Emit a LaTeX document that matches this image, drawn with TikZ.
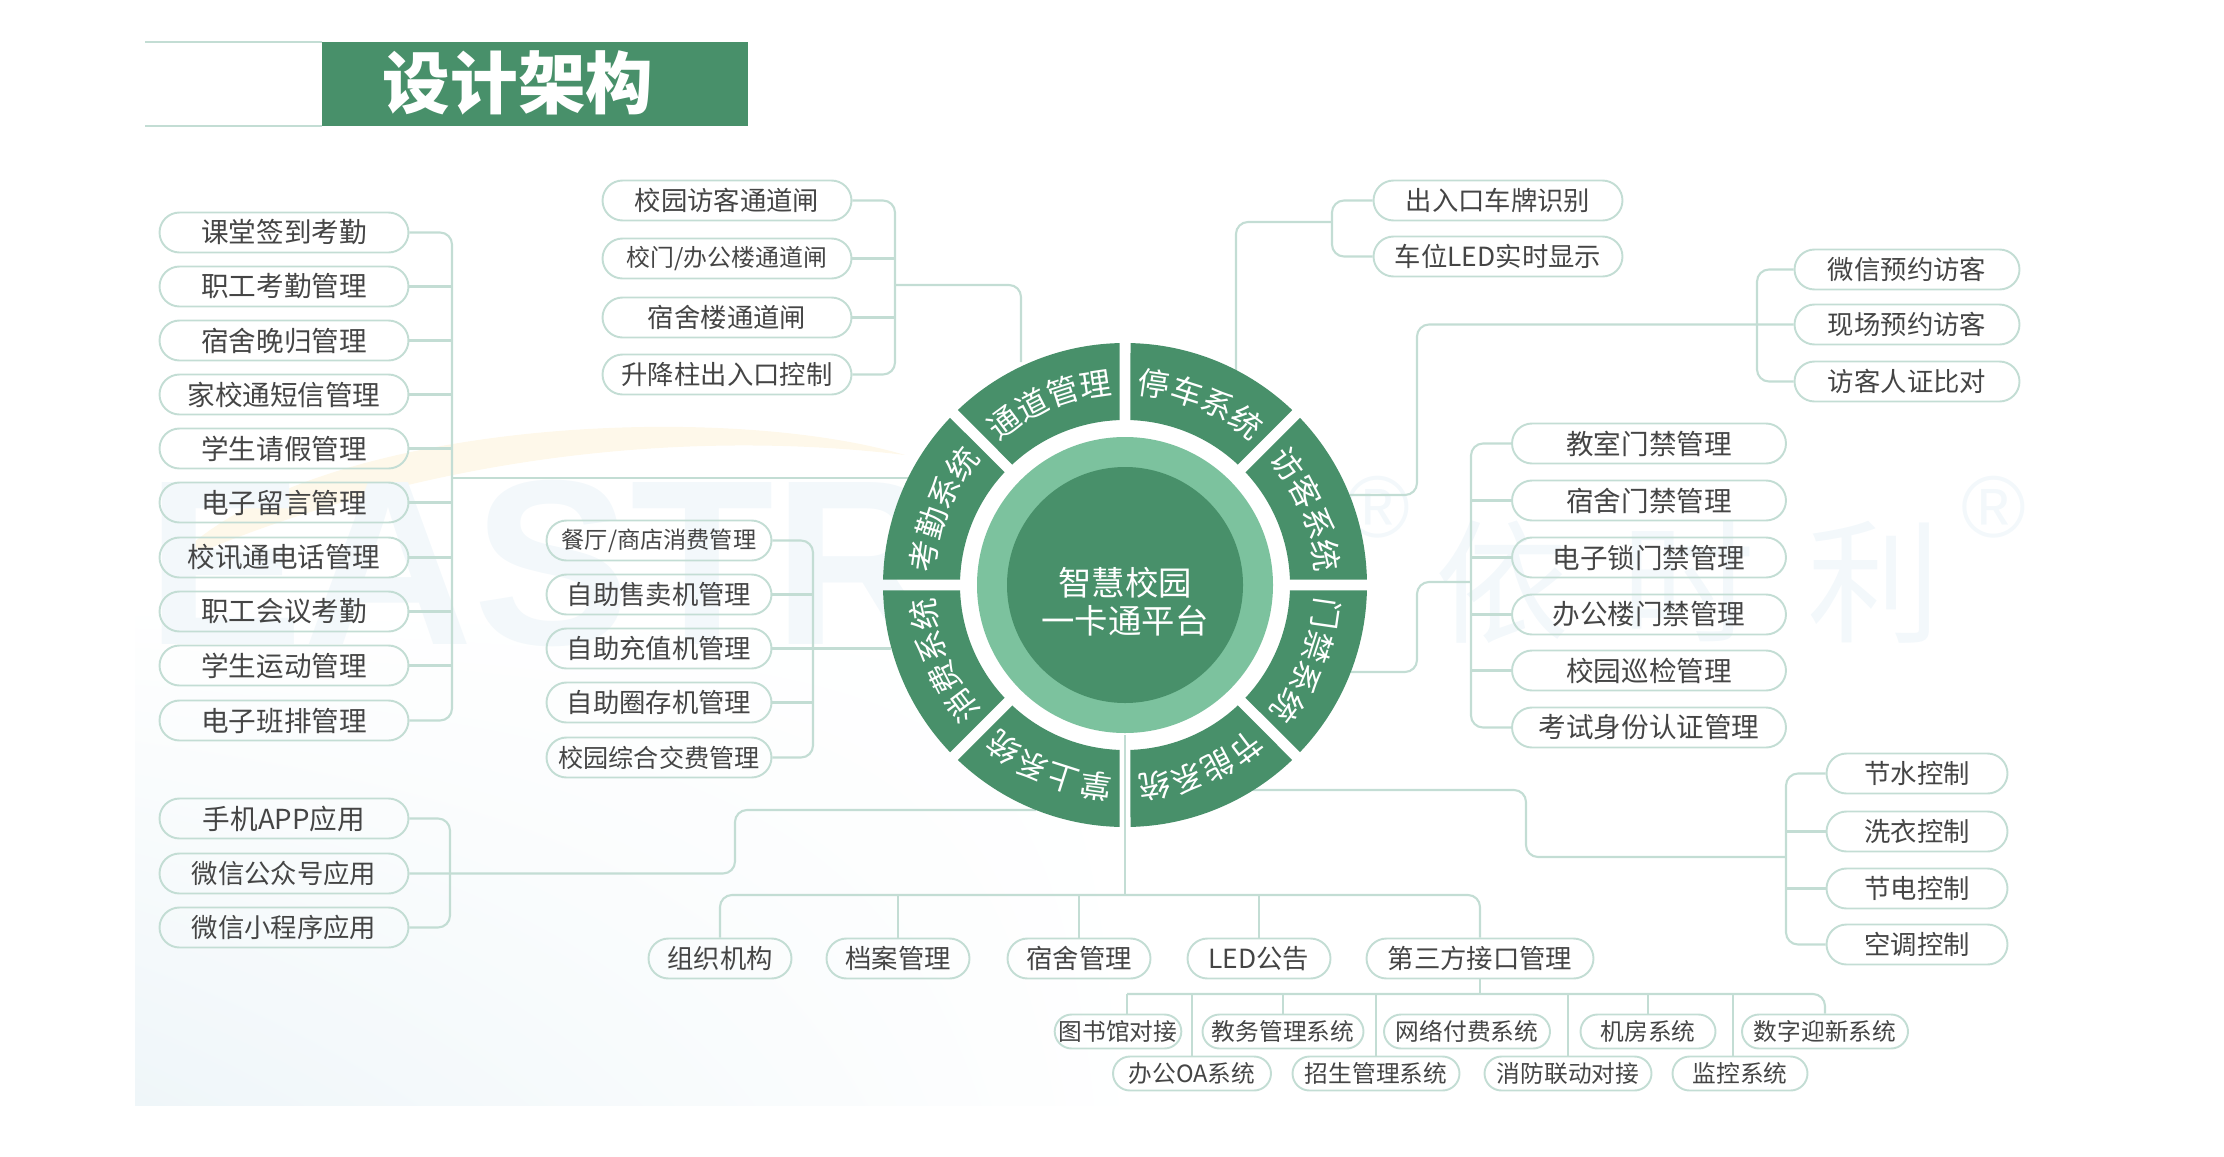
\documentclass[tikz,border=0pt]{standalone}
\usepackage{fontspec}
\usetikzlibrary{positioning,calc,shapes.misc,decorations.text,shadings}
\setmainfont{Noto Sans CJK SC}
\newfontfamily\markfont{Liberation Sans}

\definecolor{segc}{HTML}{48906A}
\definecolor{ringc}{HTML}{7CC29E}
\definecolor{linec}{HTML}{C3DDD4}
\definecolor{textc}{HTML}{454545}
\definecolor{markc}{HTML}{F3F8FB}
\definecolor{swooshc}{HTML}{FEF8EA}
\definecolor{hazec}{HTML}{EFF6F9}

\newcommand\segfont{\fontsize{18pt}{18pt}\selectfont\color{white}}

% one ring segment with its label, #1 = middle angle
\newcommand\ringseg[2]{%
  \fill[segc] ({#1+21.2}:242) arc[start angle={#1+21.2}, end angle={#1-21.2}, radius=242]
    -- ({#1-20.6}:165) arc[start angle={#1-20.6}, end angle={#1+20.6}, radius=165] -- cycle;
  \path[decorate, decoration={text along path, text={|\segfont|#2}, text align={fit to path}}]
    ({#1+19}:191) arc[start angle={#1+19}, end angle={#1-19}, radius=191];
}

\begin{document}
\begin{tikzpicture}[
  x=0.02cm, y=-0.02cm,
  conn/.style={draw=linec, line width=1.2pt, rounded corners=0.24cm},
  pill/.style={rounded rectangle, draw=linec, line width=1.1pt, inner sep=0pt, yshift=-0.03cm,
    minimum height=0.8cm, text=textc, font=\fontsize{15pt}{18pt}\selectfont},
  widepill/.style={pill, font=\fontsize{15.7pt}{18pt}\selectfont},
  minipill/.style={pill, minimum height=0.68cm, font=\fontsize{13.5pt}{16pt}\selectfont},
  wmark/.style={text=markc, inner sep=0pt}
]
\useasboundingbox (0,0) rectangle (2224,1156);

% -----------------------
% Layout parameters
% -----------------------
\def\xkq{284}
\def\xtd{727}
\def\xtc{1498}
\def\xfk{1907}
\def\xmj{1649}
\def\xjn{1917}
\def\xxf{659}
\def\yjc{957}
\def\ydsfA{1030}
\def\ydsfB{1072}

% hubs and the points where lines meet the ring
\coordinate (kqBus) at (452,478);
\coordinate (kqEnd) at (908,478);
\coordinate (tdBus) at (895,285);
\coordinate (tdTurn) at (1021,285);
\coordinate (tdEnd) at (1021,362);
\coordinate (tcBus) at (1332,222);
\coordinate (tcTurn) at (1236,222);
\coordinate (tcEnd) at (1236,372);
\coordinate (fkBus) at (1757,323);
\coordinate (fkTurn) at (1417,495);
\coordinate (fkEnd) at (1350,495);
\coordinate (mjBus) at (1471,582);
\coordinate (mjTurnA) at (1417,582);
\coordinate (mjTurnB) at (1417,672);
\coordinate (mjEnd) at (1351,672);
\coordinate (jnBus) at (1786,857);
\coordinate (jnTurnA) at (1526,857);
\coordinate (jnTurnB) at (1526,790);
\coordinate (jnEnd) at (1253,790);
\coordinate (xfBus) at (813,647);
\coordinate (xfEnd) at (891,647);
\coordinate (zsBus) at (450,872);
\coordinate (zsTurn) at (735,810);
\coordinate (zsEnd) at (1036,810);
\coordinate (jcTop) at (1125,735);
\coordinate (jcBus) at (1125,895);
\coordinate (dsfBus) at (1478,994);
\coordinate (tsgDrop) at (1127,994);
\coordinate (jkDrop) at (1733,994);

% -----------------------
% Faint background marks
% -----------------------
\shade[upper left=white, lower left=hazec, lower right=white, upper right=white]
  (135,600) rectangle (1150,1105);
\fill[swooshc] (170,565) .. controls (300,420) and (720,400) .. (905,455)
  .. controls (700,430) and (430,450) .. (170,565) -- cycle;
\node[wmark, font=\markfont\bfseries\fontsize{134pt}{134pt}\selectfont] (wmA) at (545,563) {EASTR};
\node[wmark, font=\markfont\fontsize{50pt}{50pt}\selectfont] (wmR) at (1378,507) {®};
\node[wmark, font=\fontsize{76pt}{76pt}\selectfont] (wmB) at (1688,582) {依\hspace{30pt}时\hspace{30pt}利};
\node[wmark, font=\markfont\fontsize{50pt}{50pt}\selectfont] (wmS) at (1994,507) {®};

% -----------------------
% Title
% -----------------------
\node[fill=segc, minimum width=8.52cm, minimum height=1.68cm, inner sep=0pt] (title) at (535,84) {};
\node[text=white, inner sep=0pt, font=\bfseries\fontsize{38.5pt}{40pt}\selectfont] (titleText) at (518,83) {设计架构};
\coordinate (titleA) at (145,42);
\coordinate (titleB) at (145,126);
\draw[linec, line width=1.2pt] (titleA) -- (titleA -| title.west);
\draw[linec, line width=1.2pt] (titleB) -- (titleB -| title.west);

% -----------------------
% Attendance (left)
% -----------------------
\node[widepill, minimum width=4.98cm] (kq1) at (\xkq,231) {课堂签到考勤};
\node[widepill, minimum width=4.98cm] (kq2) at (\xkq,285) {职工考勤管理};
\node[widepill, minimum width=4.98cm] (kq3) at (\xkq,339) {宿舍晚归管理};
\node[widepill, minimum width=4.98cm] (kq4) at (\xkq,393) {家校通短信管理};
\node[widepill, minimum width=4.98cm] (kq5) at (\xkq,447) {学生请假管理};
\node[widepill, minimum width=4.98cm] (kq6) at (\xkq,501) {电子留言管理};
\node[widepill, minimum width=4.98cm] (kq7) at (\xkq,556) {校讯通电话管理};
\node[widepill, minimum width=4.98cm] (kq8) at (\xkq,610) {职工会议考勤};
\node[widepill, minimum width=4.98cm] (kq9) at (\xkq,664) {学生运动管理};
\node[widepill, minimum width=4.98cm] (kq10) at (\xkq,719) {电子班排管理};

\draw[conn] (kq1.east) -- (kq1.east -| kqBus) -- (kq10.east -| kqBus) -- (kq10.east);
\draw[conn] (kq2.east) -- (kq2.east -| kqBus);
\draw[conn] (kq3.east) -- (kq3.east -| kqBus);
\draw[conn] (kq4.east) -- (kq4.east -| kqBus);
\draw[conn] (kq5.east) -- (kq5.east -| kqBus);
\draw[conn] (kq6.east) -- (kq6.east -| kqBus);
\draw[conn] (kq7.east) -- (kq7.east -| kqBus);
\draw[conn] (kq8.east) -- (kq8.east -| kqBus);
\draw[conn] (kq9.east) -- (kq9.east -| kqBus);
\draw[conn] (kqBus) -- (kqEnd);

% -----------------------
% Passages (top middle)
% -----------------------
\node[pill, minimum width=4.98cm] (td1) at (\xtd,199) {校园访客通道闸};
\node[pill, minimum width=4.98cm, font=\fontsize{13.6pt}{18pt}\selectfont] (td2) at (\xtd,257) {校门/办公楼通道闸};
\node[pill, minimum width=4.98cm] (td3) at (\xtd,316) {宿舍楼通道闸};
\node[pill, minimum width=4.98cm] (td4) at (\xtd,373) {升降柱出入口控制};

\draw[conn] (td1.east) -- (td1.east -| tdBus) -- (td4.east -| tdBus) -- (td4.east);
\draw[conn] (td2.east) -- (td2.east -| tdBus);
\draw[conn] (td3.east) -- (td3.east -| tdBus);
\draw[conn] (tdBus) -- (tdTurn) -- (tdEnd);

% -----------------------
% Parking (top right)
% -----------------------
\node[pill, minimum width=4.98cm] (tc1) at (\xtc,199) {出入口车牌识别};
\node[pill, minimum width=4.98cm] (tc2) at (\xtc,255) {车位LED实时显示};

\draw[conn] (tc1.west) -- (tc1.west -| tcBus) -- (tc2.west -| tcBus) -- (tc2.west);
\draw[conn] (tcBus) -- (tcTurn) -- (tcEnd);

% -----------------------
% Visitors (right)
% -----------------------
\node[pill, minimum width=4.5cm] (fk1) at (\xfk,268) {微信预约访客};
\node[pill, minimum width=4.5cm] (fk2) at (\xfk,323) {现场预约访客};
\node[pill, minimum width=4.5cm] (fk3) at (\xfk,380) {访客人证比对};

\draw[conn] (fk1.west) -- (fk1.west -| fkBus) -- (fk3.west -| fkBus) -- (fk3.west);
\draw[conn] (fk2.west) -- (fk2.west -| fkTurn) -- (fkTurn) -- (fkEnd);

% -----------------------
% Door access (right)
% -----------------------
\node[widepill, minimum width=5.48cm] (mj1) at (\xmj,442) {教室门禁管理};
\node[widepill, minimum width=5.48cm] (mj2) at (\xmj,499) {宿舍门禁管理};
\node[widepill, minimum width=5.48cm] (mj3) at (\xmj,556) {电子锁门禁管理};
\node[widepill, minimum width=5.48cm] (mj4) at (\xmj,613) {办公楼门禁管理};
\node[widepill, minimum width=5.48cm] (mj5) at (\xmj,669) {校园巡检管理};
\node[widepill, minimum width=5.48cm] (mj6) at (\xmj,726) {考试身份认证管理};

\draw[conn] (mj1.west) -- (mj1.west -| mjBus) -- (mj6.west -| mjBus) -- (mj6.west);
\draw[conn] (mj2.west) -- (mj2.west -| mjBus);
\draw[conn] (mj3.west) -- (mj3.west -| mjBus);
\draw[conn] (mj4.west) -- (mj4.west -| mjBus);
\draw[conn] (mj5.west) -- (mj5.west -| mjBus);
\draw[conn] (mjBus) -- (mjTurnA) -- (mjTurnB) -- (mjEnd);

% -----------------------
% Energy saving (bottom right)
% -----------------------
\node[pill, minimum width=3.62cm] (jn1) at (\xjn,772) {节水控制};
\node[pill, minimum width=3.62cm] (jn2) at (\xjn,830) {洗衣控制};
\node[pill, minimum width=3.62cm] (jn3) at (\xjn,887) {节电控制};
\node[pill, minimum width=3.62cm] (jn4) at (\xjn,943) {空调控制};

\draw[conn] (jn1.west) -- (jn1.west -| jnBus) -- (jn4.west -| jnBus) -- (jn4.west);
\draw[conn] (jn2.west) -- (jn2.west -| jnBus);
\draw[conn] (jn3.west) -- (jn3.west -| jnBus);
\draw[conn] (jnBus) -- (jnTurnA) -- (jnTurnB) -- (jnEnd);

% -----------------------
% Consumption (middle)
% -----------------------
\node[pill, minimum width=4.5cm, font=\fontsize{13.2pt}{18pt}\selectfont] (xf1) at (\xxf,539) {餐厅/商店消费管理};
\node[pill, minimum width=4.5cm] (xf2) at (\xxf,593) {自助售卖机管理};
\node[pill, minimum width=4.5cm] (xf3) at (\xxf,647) {自助充值机管理};
\node[pill, minimum width=4.5cm] (xf4) at (\xxf,701) {自助圈存机管理};
\node[pill, minimum width=4.5cm, font=\fontsize{14.3pt}{18pt}\selectfont] (xf5) at (\xxf,756) {校园综合交费管理};

\draw[conn] (xf1.east) -- (xf1.east -| xfBus) -- (xf5.east -| xfBus) -- (xf5.east);
\draw[conn] (xf2.east) -- (xf2.east -| xfBus);
\draw[conn] (xf4.east) -- (xf4.east -| xfBus);
\draw[conn] (xf3.east) -- (xf3.east -| xfEnd);

% -----------------------
% Handheld (bottom left)
% -----------------------
\node[widepill, minimum width=4.98cm] (zs1) at (\xkq,817) {手机APP应用};
\node[pill, minimum width=4.98cm] (zs2) at (\xkq,872) {微信公众号应用};
\node[pill, minimum width=4.98cm] (zs3) at (\xkq,926) {微信小程序应用};

\draw[conn] (zs1.east) -- (zs1.east -| zsBus) -- (zs3.east -| zsBus) -- (zs3.east);
\draw[conn] (zs2.east) -- (zs2.east -| zsTurn) -- (zsTurn) -- (zsEnd);

% -----------------------
% Base modules (bottom)
% -----------------------
\node[pill, minimum width=2.86cm] (jc1) at (720,\yjc) {组织机构};
\node[pill, minimum width=2.86cm] (jc2) at (898,\yjc) {档案管理};
\node[pill, minimum width=2.86cm] (jc3) at (1079,\yjc) {宿舍管理};
\node[pill, minimum width=2.86cm] (jc4) at (1259,\yjc) {LED公告};
\node[pill, minimum width=4.54cm] (jc5) at (1480,\yjc) {第三方接口管理};

\draw[conn] (jcTop) -- (jcBus);
\draw[conn] (jc1.north) -- (jc1.north |- jcBus) -- (jc5.north |- jcBus) -- (jc5.north);
\draw[conn] (jc2.north) -- (jc2.north |- jcBus);
\draw[conn] (jc3.north) -- (jc3.north |- jcBus);
\draw[conn] (jc4.north) -- (jc4.north |- jcBus);

% third party systems
\node[minipill, minimum width=2.46cm] (dsf1) at (1118,\ydsfA) {图书馆对接};
\node[minipill, minimum width=3.22cm] (dsf2) at (1283,\ydsfA) {教务管理系统};
\node[minipill, minimum width=3.32cm] (dsf3) at (1467,\ydsfA) {网络付费系统};
\node[minipill, minimum width=2.7cm] (dsf4) at (1648,\ydsfA) {机房系统};
\node[minipill, minimum width=3.32cm] (dsf5) at (1825,\ydsfA) {数字迎新系统};
\node[minipill, minimum width=3.16cm] (dsf6) at (1192,\ydsfB) {办公OA系统};
\node[minipill, minimum width=3.34cm] (dsf7) at (1376,\ydsfB) {招生管理系统};
\node[minipill, minimum width=3.34cm] (dsf8) at (1568,\ydsfB) {消防联动对接};
\node[minipill, minimum width=2.7cm] (dsf9) at (1740,\ydsfB) {监控系统};

\draw[conn] (jc5.south) -- (jc5.south |- dsfBus);
\draw[conn] (tsgDrop) -- (dsf5.north |- dsfBus) -- (dsf5.north);
\draw[conn] (tsgDrop) -- (tsgDrop |- dsf1.north);
\draw[conn] (dsf2.north) -- (dsf2.north |- dsfBus);
\draw[conn] (dsf4.north) -- (dsf4.north |- dsfBus);
\draw[conn] (dsf6.north) -- (dsf6.north |- dsfBus);
\draw[conn] (dsf7.north) -- (dsf7.north |- dsfBus);
\draw[conn] (dsf8.north) -- (dsf8.north |- dsfBus);
\draw[conn] (jkDrop) -- (jkDrop |- dsf9.north);

% -----------------------
% Centre wheel
% -----------------------
\begin{scope}[shift={(1125,585)}, y=0.02cm]
  \fill[ringc] (0,0) circle[radius=148];
  \fill[segc] (0,0) circle[radius=118];
  \ringseg{112.5}{通道管理}
  \ringseg{67.5}{停车系统}
  \ringseg{22.5}{访客系统}
  \ringseg{-22.5}{门禁系统}
  \ringseg{-67.5}{节能系统}
  \ringseg{-112.5}{掌上系统}
  \ringseg{-157.5}{消费系统}
  \ringseg{157.5}{考勤系统}
\end{scope}
\node[text=white, align=center, font=\fontsize{19pt}{21.5pt}\selectfont] (hub) at (1125,602) {智慧校园\\一卡通平台};

\end{tikzpicture}
\end{document}
